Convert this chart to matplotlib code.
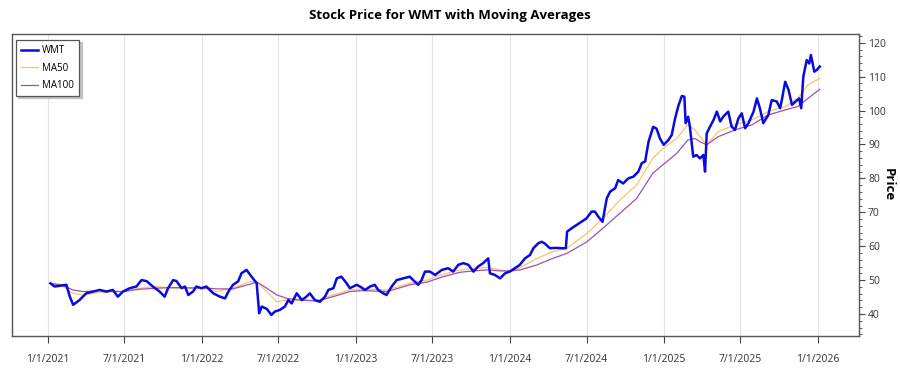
import matplotlib
matplotlib.use("Agg")
import matplotlib.pyplot as plt
from matplotlib.ticker import MultipleLocator
import pandas as pd

plt.rcParams['font.family'] = ['Open Sans', 'DejaVu Sans']

# ---- data ----
price_dates = [
    "2021-01-07", "2021-01-17", "2021-02-14", "2021-02-22", "2021-03-02", "2021-03-17", "2021-03-25",
    "2021-04-02", "2021-04-18", "2021-05-04", "2021-05-20", "2021-06-04", "2021-06-16", "2021-06-28",
    "2021-07-14", "2021-07-30", "2021-08-11", "2021-08-23", "2021-09-07", "2021-09-23", "2021-10-05",
    "2021-10-13", "2021-10-25", "2021-11-02", "2021-11-14", "2021-11-22", "2021-11-30", "2021-12-11",
    "2021-12-19", "2021-12-31",
    "2022-01-12", "2022-01-28", "2022-02-13", "2022-02-25", "2022-03-05", "2022-03-16", "2022-03-28",
    "2022-04-05", "2022-04-17", "2022-04-29", "2022-05-11", "2022-05-17", "2022-05-23", "2022-06-04",
    "2022-06-15", "2022-06-23", "2022-07-05", "2022-07-17", "2022-07-25", "2022-08-02", "2022-08-14",
    "2022-08-26", "2022-09-06", "2022-09-14", "2022-09-26", "2022-10-08", "2022-10-20", "2022-10-28",
    "2022-11-09", "2022-11-17", "2022-11-28", "2022-12-10", "2022-12-18",
    "2023-01-03", "2023-01-11", "2023-01-23", "2023-02-04", "2023-02-15", "2023-02-23", "2023-03-07",
    "2023-03-15", "2023-03-27", "2023-04-08", "2023-04-24", "2023-05-09", "2023-05-17", "2023-05-29",
    "2023-06-06", "2023-06-14", "2023-06-26", "2023-07-08", "2023-07-24", "2023-08-08", "2023-08-20",
    "2023-09-01", "2023-09-13", "2023-09-25", "2023-10-07", "2023-10-18", "2023-10-30", "2023-11-11",
    "2023-11-15", "2023-11-27", "2023-12-09", "2023-12-21",
    "2024-01-01", "2024-01-13", "2024-01-25", "2024-02-06", "2024-02-18", "2024-02-26", "2024-03-09",
    "2024-03-17", "2024-03-25", "2024-04-05", "2024-04-21", "2024-05-03", "2024-05-13", "2024-05-16",
    "2024-05-27", "2024-06-08", "2024-06-19", "2024-07-01", "2024-07-13", "2024-07-21", "2024-07-29",
    "2024-08-08", "2024-08-18", "2024-08-26", "2024-09-07", "2024-09-14", "2024-09-26", "2024-10-08",
    "2024-10-20", "2024-11-01", "2024-11-09", "2024-11-17", "2024-11-25", "2024-12-06", "2024-12-14",
    "2024-12-22", "2024-12-31",
    "2025-01-11", "2025-01-19", "2025-01-27", "2025-02-04", "2025-02-12", "2025-02-18", "2025-02-21",
    "2025-02-27", "2025-03-03", "2025-03-11", "2025-03-19", "2025-03-27", "2025-04-04", "2025-04-08",
    "2025-04-12", "2025-04-20", "2025-04-28", "2025-05-06", "2025-05-14", "2025-05-21", "2025-06-02",
    "2025-06-10", "2025-06-18", "2025-06-26", "2025-07-04", "2025-07-12", "2025-07-20", "2025-08-01",
    "2025-08-09", "2025-08-16", "2025-08-24", "2025-09-05", "2025-09-13", "2025-09-25", "2025-10-03",
    "2025-10-07", "2025-10-15", "2025-10-23", "2025-10-31", "2025-11-09", "2025-11-17", "2025-11-22",
    "2025-11-27", "2025-12-05", "2025-12-11", "2025-12-15", "2025-12-23", "2025-12-29", "2026-01-05",
]
price_values = [
    49.05, 48.1, 48.6, 45.1, 42.7, 44.1, 45.1,
    46.1, 46.6, 47.1, 46.6, 47.1, 45.1, 46.6,
    47.6, 48.1, 50.0, 49.7, 48.1, 46.6, 45.1,
    47.6, 50.0, 49.7, 47.6, 48.1, 45.6, 46.6,
    48.1, 47.6,
    48.1, 46.1, 45.1, 44.6, 46.6, 48.6, 49.6,
    52.0, 53.0, 51.0, 49.1, 40.2, 42.2, 41.5,
    39.7, 40.7, 41.2, 42.2, 44.1, 43.1, 46.1,
    44.1, 45.1, 46.1, 44.1, 43.6, 45.1, 47.1,
    47.6, 50.5, 51.0, 49.1, 47.6,
    48.6, 48.1, 47.1, 48.1, 48.6, 47.1, 46.1,
    45.6, 48.1, 50.0, 50.5, 51.0, 50.0, 48.6,
    50.0, 52.5, 52.5, 51.5, 53.0, 53.5, 52.5,
    54.5, 55.0, 54.5, 52.5, 54.0, 55.0, 56.4,
    52.0, 51.5, 50.5, 52.0,
    52.5, 53.5, 54.5, 56.4, 57.4, 59.4, 60.9,
    61.3, 60.7, 59.4, 59.5, 59.4, 59.4, 64.3,
    65.3, 66.3, 67.2, 68.2, 70.2, 70.2, 68.7,
    67.2, 74.1, 76.1, 77.1, 79.5, 78.5, 80.0,
    80.5, 82.0, 84.5, 85.0, 90.8, 95.2, 94.7,
    91.8, 89.9,
    91.3, 92.8, 97.7, 101.5, 104.3, 104.1, 96.3,
    98.2, 95.3, 86.4, 86.9, 85.9, 86.9, 82.0,
    93.3, 95.3, 97.2, 99.7, 96.8, 98.2, 99.7,
    95.3, 94.3, 97.7, 99.2, 94.8, 96.3, 99.7,
    103.6, 100.7, 96.3, 98.7, 103.1, 102.7, 100.7,
    103.1, 108.5, 106.1, 101.7, 102.7, 103.6, 100.7,
    110.0, 114.9, 113.9, 116.4, 111.5, 112.0, 113.0,
]

ma_dates = [
    "2021-01-07", "2021-02-03", "2021-03-01", "2021-03-25", "2021-05-04", "2021-06-28", "2021-08-07",
    "2021-09-16", "2021-10-24", "2021-12-03", "2022-01-03", "2022-02-06", "2022-03-16", "2022-04-25",
    "2022-05-12", "2022-06-04", "2022-06-28", "2022-07-22", "2022-08-22", "2022-10-01", "2022-11-08",
    "2022-12-18", "2023-01-18", "2023-03-16", "2023-05-09", "2023-06-19", "2023-07-27", "2023-09-05",
    "2023-10-15", "2023-11-10", "2023-12-09", "2024-01-01", "2024-01-26", "2024-03-06", "2024-04-12",
    "2024-05-16", "2024-07-02", "2024-08-09", "2024-09-18", "2024-10-28", "2024-12-05", "2024-12-29",
    "2025-01-31", "2025-02-26", "2025-03-15", "2025-03-27", "2025-04-12", "2025-05-09", "2025-06-18",
    "2025-07-28", "2025-09-04", "2025-10-15", "2025-11-14", "2025-12-08", "2026-01-05",
]
ma50_values = [
    49.0, 48.4, 46.1, 45.6, 46.4, 46.6, 47.6,
    48.1, 47.6, 47.6, 47.6, 46.6, 47.6, 49.6,
    49.4, 46.6, 43.6, 44.1, 44.1, 44.1, 45.6,
    47.1, 47.4, 47.1, 49.1, 50.0, 51.7, 53.0,
    53.5, 53.7, 53.0, 52.5, 53.7, 56.4, 58.4,
    59.4, 63.8, 68.2, 73.6, 78.1, 85.9, 88.8,
    91.8, 95.8, 94.3, 92.4, 89.9, 93.8, 95.8,
    97.2, 99.7, 101.2, 103.6, 107.6, 109.5,
]
ma100_values = [
    49.0, 48.6, 47.1, 46.6, 46.9, 46.6, 47.3,
    47.6, 47.8, 47.7, 47.7, 47.4, 47.4, 48.8,
    49.4, 47.6, 45.6, 44.6, 44.1, 43.8, 45.1,
    46.6, 46.9, 46.6, 48.6, 49.4, 51.0, 52.3,
    52.8, 53.0, 52.7, 52.7, 53.0, 54.5, 56.4,
    57.9, 61.3, 65.3, 69.7, 74.1, 81.5, 84.0,
    87.4, 91.3, 91.8, 90.8, 89.9, 92.3, 94.3,
    95.8, 98.7, 100.2, 101.2, 103.6, 106.3,
]
x_tick_labels = ["1/1/2021", "7/1/2021", "1/1/2022", "7/1/2022", "1/1/2023", "7/1/2023",
                 "1/1/2024", "7/1/2024", "1/1/2025", "7/1/2025", "1/1/2026"]
y_ticks = [40, 50, 60, 70, 80, 90, 100, 110, 120]

px = pd.to_datetime(price_dates)
mx = pd.to_datetime(ma_dates)
tick_pos = pd.to_datetime(x_tick_labels, format="%m/%d/%Y")

fig = plt.figure(figsize=(9, 3.75), dpi=100)
ax = fig.add_axes([12/900, 39/375, 847/900, 302/375])

ax.plot(px, price_values, color="#0a0ae0", lw=1.8, label="WMT", zorder=3)
ax.plot(mx, ma50_values, color="#f5c46e", lw=0.9, label="MA50", zorder=2)
ax.plot(mx, ma100_values, color="#9b50b8", lw=0.9, label="MA100", zorder=2)

ax.set_xlim(pd.Timestamp("2020-10-08"), pd.Timestamp("2026-04-08"))
ax.set_ylim(33.5, 122.6)

ax.set_xticks(tick_pos)
ax.set_xticklabels(x_tick_labels)
ax.grid(axis="x", color="#e4e4e4", lw=0.8)
ax.set_axisbelow(True)

ax.yaxis.tick_right()
ax.set_yticks(y_ticks)
ax.yaxis.set_minor_locator(MultipleLocator(2))
ax.tick_params(axis="y", which="major", direction="out", length=4, width=0.8,
               colors="#444444", labelsize=7.5, pad=2.5, labelcolor="#333333")
ax.tick_params(axis="y", which="minor", direction="out", length=2, width=0.6, colors="#444444")
ax.tick_params(axis="x", direction="out", length=5, width=0.8, colors="#444444",
               labelsize=7.5, pad=8, labelcolor="#333333")
for s in ax.spines.values():
    s.set_color("#555555")
    s.set_linewidth(1.0)

ax.text((888 - 12) / 847, 0.5, "Price", transform=ax.transAxes, rotation=270,
        ha="center", va="center", fontsize=9.5, fontweight="bold")
fig.text(0.5, 0.96, "Stock Price for WMT with Moving Averages", ha="center", va="center",
         fontsize=9.5, fontweight="bold")

leg = ax.legend(loc="upper left", bbox_to_anchor=((16 - 12) / 847, (336 - 40) / 302),
                borderaxespad=0, fontsize=7, frameon=True, fancybox=False,
                shadow={"ox": 1.5, "oy": -1.5, "color": "#b0b0b0", "alpha": 0.7},
                edgecolor="#555555", borderpad=0.55, handlelength=1.7,
                labelspacing=0.65, handletextpad=0.45)
leg.get_frame().set_linewidth(0.9)

fig.savefig("out.png", dpi=100)
